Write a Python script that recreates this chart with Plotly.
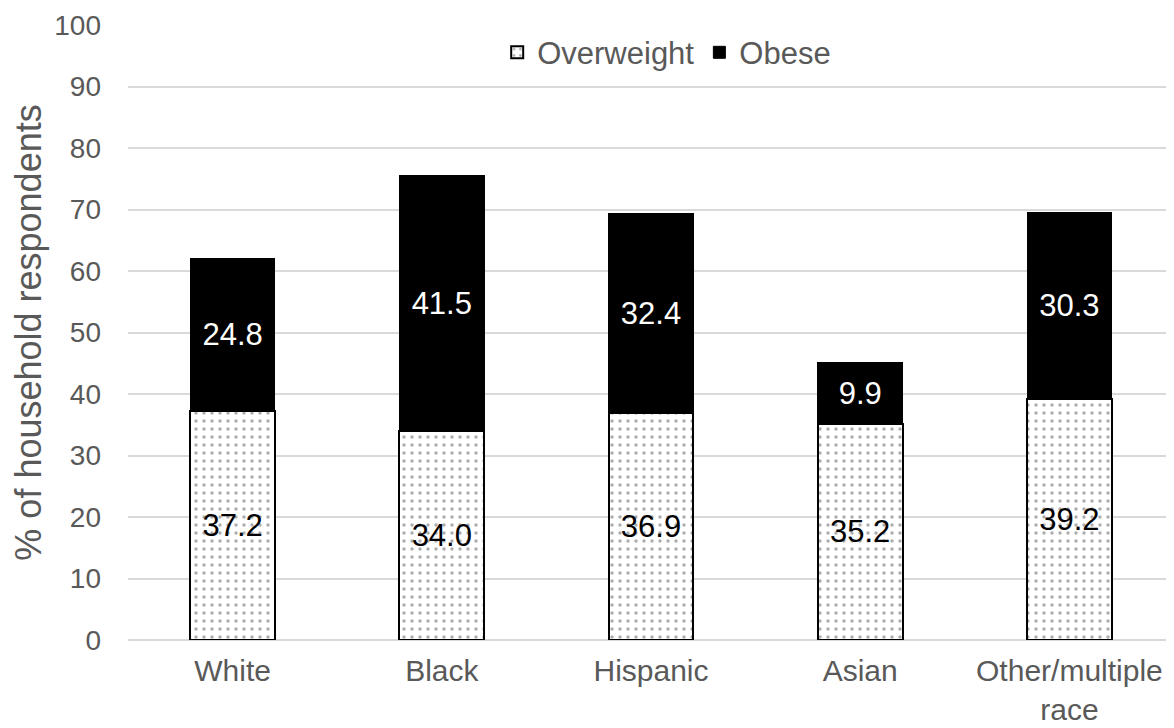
import plotly.graph_objects as go

categories = ["White", "Black", "Hispanic", "Asian", "Other/multiple<br>race"]
overweight = [37.2, 34.0, 36.9, 35.2, 39.2]
obese = [24.8, 41.5, 32.4, 9.9, 30.3]
y_ticks = [0, 10, 20, 30, 40, 50, 60, 70, 80, 90, 100]

FONT = "Liberation Sans, Arial, sans-serif"
GRAY = "#595959"

fig = go.Figure()
fig.add_trace(go.Bar(
    x=categories, y=overweight, name="Overweight",
    text=[f"{v:.1f}" for v in overweight], textposition="inside",
    insidetextanchor="middle", constraintext="none",
    textfont=dict(family=FONT, size=31, color="#000000"),
    marker=dict(color="white", line=dict(color="black", width=2),
                pattern=dict(shape=".", fgcolor="#5a5a5a", bgcolor="white",
                             size=8, solidity=0.14)),
))
fig.add_trace(go.Bar(
    x=categories, y=obese, name="Obese",
    text=[f"{v:.1f}" for v in obese], textposition="inside",
    insidetextanchor="middle", constraintext="none",
    textfont=dict(family=FONT, size=31, color="#ffffff"),
    marker=dict(color="black", line=dict(color="black", width=1)),
))

fig.update_layout(
    barmode="stack", bargap=0.595,
    width=1166, height=720,
    margin=dict(l=120, r=0, t=17, b=88),
    paper_bgcolor="white", plot_bgcolor="white",
    font=dict(family=FONT, color=GRAY),
    legend=dict(orientation="h", x=0.515, xanchor="center", y=0.955, yanchor="middle",
                traceorder="normal", itemwidth=30,
                font=dict(family=FONT, size=31, color=GRAY),
                bgcolor="rgba(0,0,0,0)"),
    xaxis=dict(tickfont=dict(family=FONT, size=30, color=GRAY), showgrid=False,
               showline=False, ticks="", ticklabelstandoff=10, automargin=False),
    yaxis=dict(range=[0, 100], tickvals=y_ticks, showgrid=True,
               gridcolor="#d9d9d9", gridwidth=1.5,
               tickfont=dict(family=FONT, size=28, color=GRAY),
               ticks="", ticklabelstandoff=26, zeroline=True, zerolinecolor="#d9d9d9",
               zerolinewidth=1.5, automargin=False,
               title=dict(text="% of household respondents",
                          font=dict(family=FONT, size=36, color=GRAY), standoff=18)),
)

fig.write_html("out.html")
